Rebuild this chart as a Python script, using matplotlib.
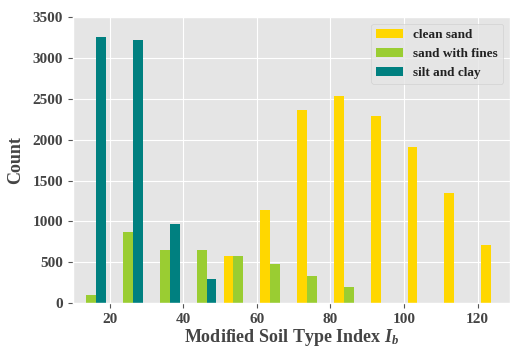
import matplotlib
matplotlib.use("Agg")
import matplotlib.pyplot as plt
import numpy as np

plt.style.use("ggplot")
plt.rcParams["font.family"] = ["Liberation Serif", "DejaVu Serif"]
plt.rcParams["font.weight"] = "bold"
plt.rcParams["mathtext.fontset"] = "custom"
plt.rcParams["mathtext.it"] = "Liberation Serif:italic"
plt.rcParams["mathtext.rm"] = "Liberation Serif"

# Histogram bins of the modified soil type index
bin_edges = [10, 20, 30, 40, 50, 60, 70, 80, 90, 100, 110, 120, 130]
bin_centers = [15, 25, 35, 45, 55, 65, 75, 85, 95, 105, 115, 125]

clean_sand = [0, 0, 0, 0, 580, 1145, 2365, 2530, 2292, 1905, 1346, 710]
sand_with_fines = [100, 870, 655, 655, 582, 478, 336, 202, 0, 0, 0, 0]
silt_and_clay = [3258, 3214, 965, 300, 0, 0, 0, 0, 0, 0, 0, 0]

labels = ["clean sand", "sand with fines", "silt and clay"]
colors = ["#FFD700", "#9ACD32", "#008080"]

fig = plt.figure(figsize=(5.13, 3.48), dpi=100)
ax = fig.add_axes([0.142, 0.129, 0.852, 0.822])

ax.hist([bin_centers] * 3, bins=bin_edges,
        weights=[clean_sand, sand_with_fines, silt_and_clay],
        color=colors, label=labels)

ax.set_xlim(10, 128.8)
ax.set_ylim(0, 3500)
ax.set_xticks([20, 40, 60, 80, 100, 120])
ax.set_yticks(np.arange(0, 3501, 500))
ax.tick_params(labelsize=11, colors="#555555", labelcolor="#444444")
for lab in ax.get_xticklabels() + ax.get_yticklabels():
    lab.set_fontweight("bold")

ax.set_xlabel("Modified Soil Type Index $I_b$", fontsize=13, fontweight="bold",
              color="#444444", labelpad=1)
ax.set_ylabel("Count", fontsize=13, fontweight="bold", color="#444444", labelpad=6)

leg = ax.legend(loc="upper right", prop={"weight": "bold", "size": 9.5},
                frameon=True)
for t in leg.get_texts():
    t.set_color("#222222")

fig.savefig("out.png", dpi=100)
